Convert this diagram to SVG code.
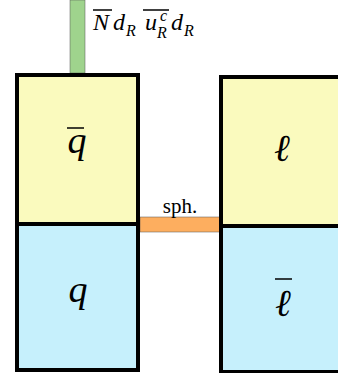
<svg xmlns="http://www.w3.org/2000/svg" width="338" height="373" viewBox="0 0 338 373">
<defs>
<style>
.b{stroke:#000;stroke-width:4}
.y{fill:#fafabe}
.c{fill:#c6f0fc}
.ob{stroke:#000;stroke-width:1.5}
</style>
</defs>
<g id="connectors">
<rect x="70" y="0" width="15" height="73" fill="#9fd38d" stroke="#555" stroke-width="0.5"/>
<rect x="140" y="217" width="80" height="15" fill="#fdae5f" stroke="#555" stroke-width="0.5"/>
</g>
<g id="label-top" font-family="Liberation Serif, DejaVu Serif, serif" font-style="italic">
<text x="93" y="30" font-size="24">N</text>
<line class="ob" x1="93" y1="10" x2="112" y2="10"/>
<text x="113" y="30" font-size="24">d</text>
<text x="126" y="36" font-size="16">R</text>
<text x="145" y="30" font-size="24">u</text>
<text x="160" y="21" font-size="16">c</text>
<text x="157" y="38" font-size="16">R</text>
<line class="ob" x1="143" y1="10" x2="169" y2="10"/>
<text x="171" y="30" font-size="24">d</text>
<text x="184" y="36" font-size="16">R</text>
</g>
<g id="q-box">
<rect class="y" x="17" y="75" width="121" height="149"/>
<rect class="c" x="17" y="224" width="121" height="146"/>
<rect x="17" y="75" width="121" height="295" fill="none" class="b"/>
<line class="b" x1="17" y1="224" x2="138" y2="224"/>
<text x="77" y="153" font-size="38" text-anchor="middle" font-family="Liberation Serif, DejaVu Serif, serif" font-style="italic">q</text>
<line class="ob" x1="67" y1="128" x2="84" y2="128"/>
<text x="78" y="302" font-size="38" text-anchor="middle" font-family="Liberation Serif, DejaVu Serif, serif" font-style="italic">q</text>
</g>
<g id="l-box">
<rect class="y" x="221" y="77" width="130" height="149"/>
<rect class="c" x="221" y="226" width="130" height="146"/>
<rect x="221" y="77" width="130" height="295" fill="none" class="b"/>
<line class="b" x1="221" y1="226" x2="351" y2="226"/>
<text x="282" y="161" font-size="38" text-anchor="middle" font-family="DejaVu Serif, serif" font-style="italic">ℓ</text>
<text x="283" y="316" font-size="38" text-anchor="middle" font-family="DejaVu Serif, serif" font-style="italic">ℓ</text>
<line class="ob" x1="275" y1="279" x2="292" y2="279"/>
</g>
<g id="sph">
<text x="180" y="213" font-size="21" text-anchor="middle" font-family="Liberation Serif, serif">sph.</text>
</g>
</svg>
